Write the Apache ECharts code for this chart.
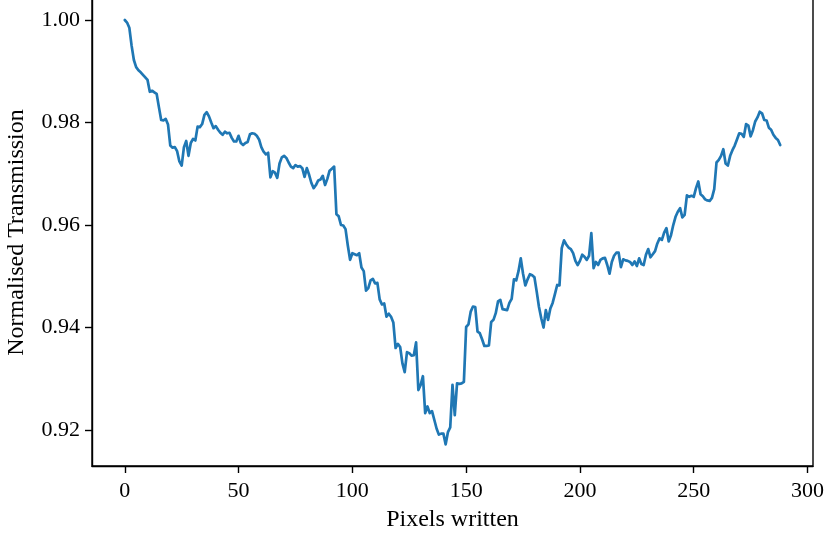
<!DOCTYPE html>
<html>
<head>
<meta charset="utf-8">
<script src="https://cdn.jsdelivr.net/npm/echarts@6/dist/echarts.min.js"></script>
<style>
html,body{margin:0;padding:0;background:#fff;}
#chart{width:826px;height:535px;}
</style>
</head>
<body>
<div id="chart"></div>
<script>
// Normalised transmission per pixel written (index 0..288)
const transmission = [
  1.0000,0.9995,0.9985,0.9950,0.9922,0.9908,0.9902,0.9898,0.9893,0.9888,
  0.9883,0.9860,0.9862,0.9859,0.9856,0.9830,0.9805,0.9804,0.9807,0.9796,
  0.9755,0.9751,0.9752,0.9744,0.9724,0.9716,0.9752,0.9764,0.9735,0.9760,
  0.9768,0.9765,0.9792,0.9791,0.9797,0.9815,0.9820,0.9812,0.9800,0.9789,
  0.9793,0.9786,0.9780,0.9776,0.9782,0.9779,0.9780,0.9770,0.9763,0.9763,
  0.9774,0.9760,0.9756,0.9760,0.9762,0.9777,0.9779,0.9778,0.9774,0.9767,
  0.9752,0.9743,0.9738,0.9741,0.9693,0.9705,0.9702,0.9692,0.9720,0.9732,
  0.9735,0.9731,0.9722,0.9714,0.9711,0.9717,0.9714,0.9715,0.9711,0.9694,
  0.9711,0.9698,0.9682,0.9672,0.9678,0.9687,0.9689,0.9696,0.9678,0.9690,
  0.9706,0.9710,0.9714,0.9621,0.9617,0.9600,0.9599,0.9592,0.9560,0.9532,
  0.9545,0.9543,0.9541,0.9545,0.9517,0.9510,0.9472,0.9477,0.9492,0.9495,
  0.9486,0.9487,0.9455,0.9445,0.9447,0.9421,0.9427,0.9421,0.9410,0.9360,
  0.9368,0.9362,0.9330,0.9313,0.9352,0.9350,0.9345,0.9346,0.9371,0.9278,
  0.9288,0.9305,0.9233,0.9246,0.9233,0.9237,0.9220,0.9203,0.9191,0.9193,
  0.9193,0.9172,0.9196,0.9205,0.9288,0.9229,0.9291,0.9290,0.9291,0.9294,
  0.9401,0.9406,0.9431,0.9441,0.9440,0.9392,0.9389,0.9377,0.9364,0.9364,
  0.9365,0.9411,0.9415,0.9428,0.9451,0.9454,0.9436,0.9435,0.9434,0.9448,
  0.9456,0.9494,0.9492,0.9510,0.9535,0.9505,0.9482,0.9494,0.9504,0.9502,
  0.9498,0.9470,0.9440,0.9418,0.9400,0.9434,0.9415,0.9437,0.9448,0.9465,
  0.9483,0.9482,0.9555,0.9570,0.9562,0.9556,0.9553,0.9545,0.9530,0.9522,
  0.9530,0.9542,0.9538,0.9532,0.9540,0.9584,0.9516,0.9528,0.9522,0.9532,
  0.9535,0.9536,0.9522,0.9505,0.9528,0.9540,0.9546,0.9546,0.9518,0.9533,
  0.9531,0.9530,0.9528,0.9522,0.9529,0.9520,0.9535,0.9524,0.9522,0.9542,
  0.9553,0.9537,0.9543,0.9549,0.9564,0.9574,0.9571,0.9585,0.9594,0.9568,
  0.9580,0.9600,0.9616,0.9626,0.9633,0.9615,0.9620,0.9658,0.9655,0.9657,
  0.9655,0.9672,0.9685,0.9660,0.9656,0.9650,0.9648,0.9647,0.9653,0.9670,
  0.9722,0.9727,0.9735,0.9748,0.9720,0.9716,0.9735,0.9746,0.9755,0.9767,
  0.9779,0.9778,0.9772,0.9797,0.9794,0.9773,0.9785,0.9802,0.9810,0.9821,
  0.9818,0.9805,0.9804,0.9790,0.9786,0.9776,0.9770,0.9766,0.9756
];
const xTicks = [0, 50, 100, 150, 200, 250, 300];
const yTicks = [0.92, 0.94, 0.96, 0.98, 1.00];
const xName = 'Pixels written';
const yName = 'Normalised Transmission';

const points = transmission.map((v, i) => [i, v]);
const FONT = '"Liberation Serif", serif';

const chart = echarts.init(document.getElementById('chart'), null, {renderer: 'canvas'});
chart.setOption({
  animation: false,
  backgroundColor: '#ffffff',
  grid: {
    left: 92, right: 13, top: -1, bottom: 69,
    outerBoundsMode: 'none', containLabel: false,
    show: true, borderColor: '#000', borderWidth: 1.4, backgroundColor: 'transparent'
  },
  xAxis: {
    type: 'value',
    min: -14.4, max: 302.4,
    name: xName, nameLocation: 'middle', nameGap: 42,
    nameTextStyle: {fontFamily: FONT, fontSize: 24, color: '#000'},
    axisLine: {show: true, onZero: false, lineStyle: {color: '#000', width: 1.4}},
    axisTick: {show: true, inside: false, length: 7, lineStyle: {color: '#000', width: 1.4}, customValues: xTicks},
    axisLabel: {fontFamily: FONT, fontSize: 22, color: '#000', margin: 14, customValues: xTicks,
      formatter: v => String(v)},
    splitLine: {show: false}
  },
  yAxis: {
    type: 'value',
    min: 0.91298, max: 1.0041,
    name: yName, nameLocation: 'middle', nameGap: 63,
    nameTextStyle: {fontFamily: FONT, fontSize: 24, color: '#000'},
    axisLine: {show: true, onZero: false, lineStyle: {color: '#000', width: 1.4}},
    axisTick: {show: true, inside: false, length: 7, lineStyle: {color: '#000', width: 1.4}, customValues: yTicks},
    axisLabel: {fontFamily: FONT, fontSize: 22, color: '#000', margin: 12, customValues: yTicks,
      formatter: v => v.toFixed(2)},
    splitLine: {show: false}
  },
  series: [{
    type: 'line',
    data: points,
    showSymbol: false,
    symbol: 'none',
    lineStyle: {color: '#1f77b4', width: 2.7, join: 'round', cap: 'round'},
    z: 3
  }]
});
</script>
</body>
</html>
